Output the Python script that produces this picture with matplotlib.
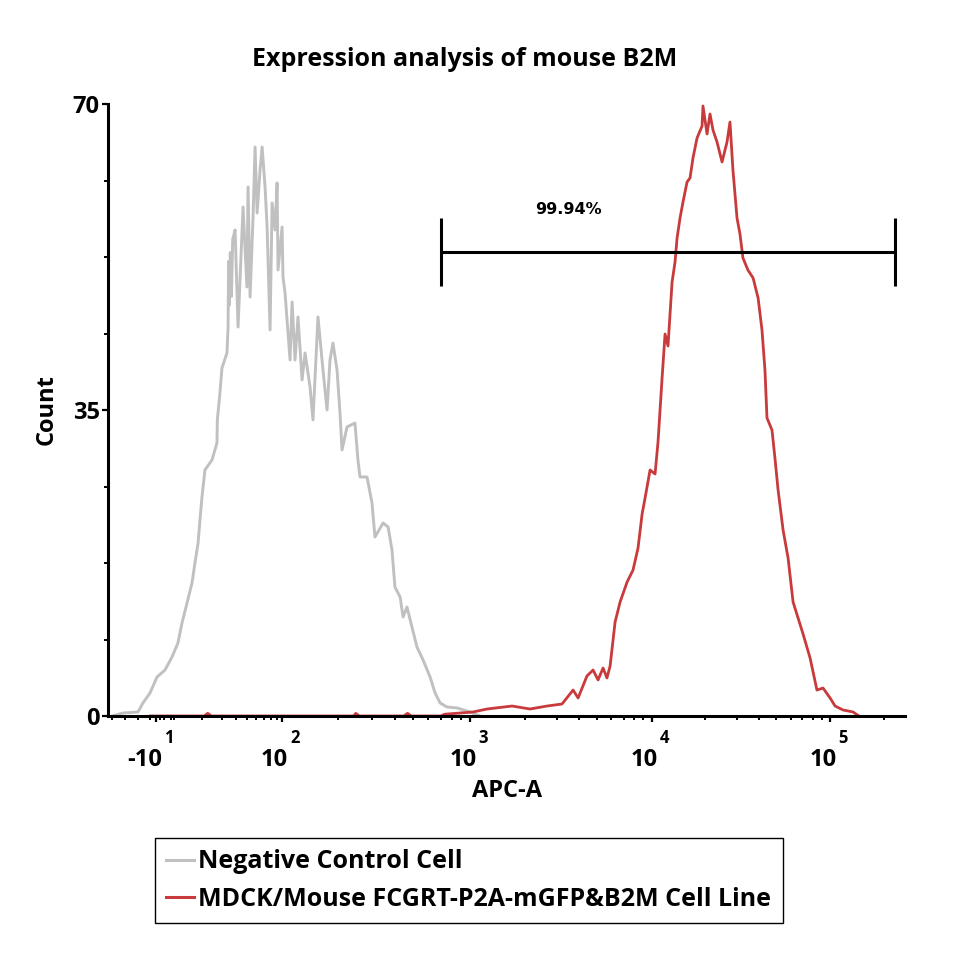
import numpy as np
import matplotlib
matplotlib.use('Agg')
import matplotlib.pyplot as plt
from matplotlib.lines import Line2D

plt.rcParams['font.family'] = ['Open Sans', 'DejaVu Sans']
plt.rcParams['font.weight'] = 'bold'

# APC-A position on the biexponential display (decade units) and counts
neg_x = [1.083, 1.142, 1.223, 1.250, 1.288, 1.326, 1.369, 1.407, 1.439, 1.461,
         1.488, 1.515, 1.531, 1.548, 1.558, 1.569, 1.585, 1.623, 1.650, 1.652,
         1.666, 1.677, 1.704, 1.710, 1.713, 1.717, 1.722, 1.728, 1.735, 1.748,
         1.764, 1.791, 1.812, 1.818, 1.829, 1.845, 1.856, 1.867, 1.883, 1.894,
         1.910, 1.921, 1.937, 1.948, 1.964, 1.975, 1.980, 2.002, 2.007, 2.018,
         2.045, 2.056, 2.072, 2.088, 2.110, 2.126, 2.153, 2.169, 2.196, 2.223,
         2.245, 2.261, 2.277, 2.299, 2.315, 2.326, 2.353, 2.396, 2.412, 2.423,
         2.461, 2.488, 2.504, 2.548, 2.575, 2.596, 2.612, 2.640, 2.656, 2.677,
         2.704, 2.731, 2.764, 2.802, 2.829, 2.856, 2.893, 2.948, 3.018, 3.072]
neg_y = [0.0, 0.34, 0.46, 1.49, 2.63, 4.46, 5.26, 6.75, 8.35, 10.64,
         12.92, 15.21, 17.50, 19.79, 22.42, 25.05, 28.14, 29.28, 31.23, 33.86,
         36.94, 39.80, 41.52, 44.49, 52.0, 47.0, 53.0, 48.0, 54.5, 55.59,
         44.49, 58.22, 49.07, 60.51, 47.92, 57.08, 65.08, 57.53, 62.45, 65.08,
         60.51, 55.93, 44.15, 58.68, 55.59, 60.97, 51.01, 55.93, 50.21, 48.38,
         40.72, 47.35, 40.72, 45.64, 38.43, 41.52, 37.63, 33.86, 45.64, 39.58,
         35.00, 40.72, 42.66, 39.58, 34.66, 30.43, 33.06, 33.51, 29.28, 27.34,
         27.34, 24.36, 20.47, 22.08, 21.62, 18.99, 14.75, 13.61, 11.32, 12.47,
         10.18, 7.89, 6.41, 4.46, 2.63, 1.49, 1.03, 0.92, 0.46, 0.0]

pos_x = [1.290, 1.580, 1.600, 1.620, 2.390, 2.400, 2.420, 2.660, 2.680, 2.700,
         2.860, 2.880, 3.034, 3.110, 3.245, 3.342, 3.434, 3.515, 3.575, 3.602,
         3.650, 3.683, 3.710, 3.737, 3.758, 3.775, 3.802, 3.829, 3.867, 3.899,
         3.926, 3.948, 3.964, 3.991, 4.018, 4.034, 4.056, 4.072, 4.088, 4.110,
         4.126, 4.137, 4.153, 4.169, 4.191, 4.207, 4.223, 4.245, 4.272, 4.277,
         4.299, 4.315, 4.331, 4.353, 4.380, 4.407, 4.423, 4.439, 4.461, 4.477,
         4.493, 4.520, 4.548, 4.575, 4.596, 4.612, 4.623, 4.650, 4.666, 4.683,
         4.710, 4.737, 4.764, 4.791, 4.818, 4.856, 4.893, 4.926, 4.964, 4.991,
         5.034, 5.088, 5.120]
pos_y = [0.0, 0.0, 0.3, 0.0, 0.0, 0.3, 0.0, 0.0, 0.3, 0.0,
         0.0, 0.2, 0.46, 0.80, 1.14, 0.80, 1.14, 1.37, 2.97, 2.06,
         4.58, 5.26, 4.12, 5.49, 4.35, 5.72, 10.75, 13.04, 15.33, 16.70,
         19.22, 23.10, 24.93, 28.14, 27.68, 31.34, 38.66, 43.69, 42.32, 49.64,
         51.93, 54.67, 56.96, 58.79, 61.08, 61.54, 63.82, 66.11, 67.48, 69.77,
         66.57, 68.86, 67.03, 65.65, 63.37, 65.65, 67.94, 62.45, 56.96, 55.13,
         52.39, 51.01, 50.10, 47.81, 44.15, 39.58, 34.09, 32.71, 29.51, 25.85,
         21.27, 18.07, 13.04, 11.21, 9.38, 6.63, 2.97, 3.20, 2.06, 1.14,
         0.69, 0.46, 0.0]

series_labels = ['Negative Control Cell', 'MDCK/Mouse FCGRT-P2A-mGFP&B2M Cell Line']
series_colors = ['#c0c0c0', '#c83a3c']

# decade tick positions on the display axis
decade_pos = [1.320, 2.000, 3.018, 4.000, 4.964]
decade_base = ['-10', '10', '10', '10', '10']
decade_exp = ['1', '2', '3', '4', '5']

gate_lo, gate_hi = 2.861, 5.315
gate_y = 53.07
gate_label = '99.94%'

fig = plt.figure(figsize=(9.6, 9.6), dpi=100)
ax = fig.add_axes([108 / 960, 1 - 716 / 960, 797 / 960, 612 / 960])

ax.plot(neg_x, neg_y, color=series_colors[0], lw=2.1)
ax.plot(pos_x, pos_y, color=series_colors[1], lw=2.0)

ax.hlines(gate_y, gate_lo, gate_hi, color='black', lw=2.2)
ax.vlines([gate_lo, gate_hi], gate_y - 3.9, gate_y + 3.9, color='black', lw=2.2)
ax.text(3.548, gate_y + 4.0, gate_label, ha='center', va='bottom',
        fontsize=11.5, fontweight='bold', family='DejaVu Sans')

ax.set_xlim(1.061, 5.369)
ax.set_ylim(0, 70)

for s in ['top', 'right']:
    ax.spines[s].set_visible(False)
for s in ['left', 'bottom']:
    ax.spines[s].set_linewidth(2.2)

ax.set_yticks([0, 35, 70])
ax.set_yticks(np.arange(0, 70.1, 8.75), minor=True)
ax.tick_params(axis='y', which='major', length=4, width=1.6, labelsize=17, pad=2)
ax.tick_params(axis='y', which='minor', length=3, width=1.4)

# minor x ticks: log spacing inside each decade
edges = [1.385, 2.000, 3.018, 4.000, 4.964, 5.926]
minor = [1.083, 1.153, 1.223, 1.288, 1.342, 1.364, 1.400, 1.420]
for a, b in zip(edges[:-1], edges[1:]):
    for m in range(2, 10):
        p = a + (b - a) * np.log10(m)
        if p < 5.369:
            minor.append(p)
ax.set_xticks(decade_pos)
ax.set_xticks(minor, minor=True)
ax.set_xticklabels([])
ax.tick_params(axis='x', which='major', length=4, width=1.6)
ax.tick_params(axis='x', which='minor', length=3, width=1.4)

for p, base, ex in zip(decade_pos, decade_base, decade_exp):
    ax.annotate(base, xy=(p, 0), xycoords=('data', 'axes fraction'),
                xytext=(4.5, -32), textcoords='offset points',
                ha='right', va='center', fontsize=17, fontweight='bold')
    ax.annotate(ex, xy=(p, 0), xycoords=('data', 'axes fraction'),
                xytext=(6, -16), textcoords='offset points',
                ha='left', va='center', fontsize=12, fontweight='bold')

ax.set_xlabel('APC-A', fontsize=17, fontweight='bold', labelpad=38)
ax.set_ylabel('Count', fontsize=17, fontweight='bold', labelpad=10)
fig.text(465 / 960, 1 - 60 / 960, 'Expression analysis of mouse B2M',
         ha='center', va='center', fontsize=18, fontweight='bold')

handles = [Line2D([], [], color=c, lw=2.2) for c in series_colors]
leg = fig.legend(handles, series_labels, loc='upper left',
                 bbox_to_anchor=(155 / 960, 1 - 838 / 960), borderaxespad=0,
                 fancybox=False, framealpha=1, edgecolor='black',
                 prop={'size': 18, 'weight': 'bold'}, handlelength=1.1,
                 handletextpad=0.18, borderpad=0.45, labelspacing=0.5)
leg.get_frame().set_linewidth(1.0)

fig.savefig('out.png', dpi=100)
